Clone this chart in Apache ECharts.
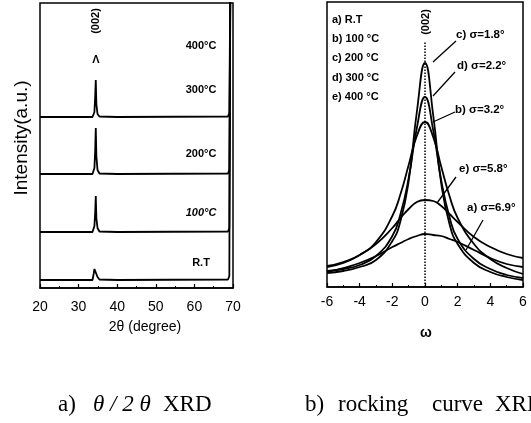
<!DOCTYPE html>
<html><head><meta charset="utf-8">
<script src="https://cdn.jsdelivr.net/npm/echarts@6/dist/echarts.min.js"></script>
<style>html,body{margin:0;padding:0;background:#fff}#c{width:531px;height:423px}</style>
</head><body><div id="c"></div>
<script>
// ---- Left panel: theta/2theta XRD (stacked traces, a.u.) ----
const twoTheta = [20, 33.6, 33.9, 34.1, 34.3, 34.45, 34.6, 34.9, 35.4, 40, 68.7, 69.05, 69.3, 70];
const xrdRT   = [8, 8, 14, 19, 20, 17, 14, 11, 8.5, 8, 8.5, 12, 300, 300];
const xrd100  = [56, 56, 57, 62, 76, 92, 70, 60, 56.5, 56, 56.5, 60, 300, 300];
const xrd200  = [114, 114, 115, 120, 138, 160, 132, 118, 114.5, 114, 114.5, 118, 300, 300];
const xrd300  = [171, 171, 172, 176, 192, 208, 184, 174, 171.5, 171, 171.5, 175, 300, 300];
const xrdTicks = [20, 30, 40, 50, 60, 70];
const sampleLabels = ['400°C', '300°C', '200°C', '100°C', 'R.T'];

// ---- Right panel: rocking curves (a.u.) ----
const omega = [-6, -5, -4, -3, -2, -1.5, -1, -0.5, 0, 0.5, 1, 1.5, 2, 3, 4, 5, 6];
const rcA = [15, 19, 24, 31, 40, 44, 48, 51, 53, 52, 51, 48, 45, 37, 29, 23, 20];   // R.T  6.9
const rcB = [21, 25, 32, 45, 71, 93, 122, 151, 165, 150, 120, 91, 69, 43, 28, 19, 13]; // 100  3.2
const rcC = [14, 16, 20, 27, 46, 66, 106, 175, 224, 172, 103, 63, 43, 24, 15, 10, 7]; // 200  1.8
const rcD = [16, 18, 22, 31, 51, 73, 109, 159, 190, 157, 106, 70, 48, 28, 18, 12, 9]; // 300  2.2
const rcE = [20, 24, 32, 43, 59, 69, 78, 85, 87, 86, 81, 73, 65, 50, 40, 33, 29];   // 400  5.8
const rcTicks = [-6, -4, -2, 0, 2, 4, 6];
const rcLegend = ['a) R.T', 'b) 100 °C', 'c) 200 °C', 'd) 300 °C', 'e) 400 °C'];
const rcNotes = ['c) σ=1.8°', 'd) σ=2.2°', 'b) σ=3.2°', 'e) σ=5.8°', 'a) σ=6.9°'];

const pair = (xs, ys) => xs.map((x, i) => [x, ys[i]]);
const F = '"Liberation Sans", Arial, sans-serif';
const SERIF = '"Liberation Serif", "DejaVu Serif", serif';
const lineS = (xi, yi, d, w, smooth) => ({
  type: 'line', xAxisIndex: xi, yAxisIndex: yi, data: d, showSymbol: false, smooth: smooth,
  lineStyle: { color: '#000', width: w }, silent: true, animation: false, clip: true
});

const chart = echarts.init(document.getElementById('c'), null, { renderer: 'canvas' });
const txt = (x, y, s, o = {}) => ({
  type: 'text', x, y, rotation: o.rot || 0,
  style: { text: s, font: (o.style || '') + ' ' + (o.weight || 'bold') + ' ' + (o.size || 11) + 'px ' + (o.family || F),
    fill: '#000', textAlign: o.align || 'left', textVerticalAlign: 'middle' }
});
const seg = (x1, y1, x2, y2) => ({ type: 'line', shape: { x1, y1, x2, y2 }, style: { stroke: '#000', lineWidth: 1.3 } });

const labelY = [46, 90, 154, 213, 263];
const cap = { weight: 'normal', size: 23, family: SERIF };
const graphics = [
  txt(22, 138, 'Intensity(a.u.)', { rot: Math.PI / 2, align: 'center', weight: 'normal', size: 19 }),
  txt(96, 21, '(002)', { rot: Math.PI / 2, align: 'center', weight: 'bold', size: 11 }),
  txt(96, 60, 'Λ', { align: 'center', weight: 'bold', size: 11 }),
  txt(145, 327, '2θ (degree)', { align: 'center', weight: 'normal', size: 14 }),
  txt(426, 333, 'ω', { align: 'center', weight: 'bold', size: 14 }),
  txt(426, 22, '(002)', { rot: Math.PI / 2, align: 'center', weight: 'bold', size: 11 }),
  txt(58, 405, 'a)', cap),
  txt(93, 405, 'θ / 2 θ', Object.assign({ style: 'italic' }, cap)),
  txt(163, 405, 'XRD', cap),
  txt(305, 405, 'b)', cap),
  txt(338, 405, 'rocking', cap),
  txt(432, 405, 'curve', cap),
  txt(495, 405, 'XRD', cap)
];
sampleLabels.forEach((s, i) => graphics.push(txt(201, labelY[i], s, { align: 'center', style: i === 3 ? 'italic' : '' })));
rcLegend.forEach((s, i) => graphics.push(txt(332, 20 + i * 19.2, s)));
const noteXY = [[456, 35], [457, 66], [455, 110], [459, 169], [467, 208]];
rcNotes.forEach((s, i) => graphics.push(txt(noteXY[i][0], noteXY[i][1], s, { size: 11.5 })));
graphics.push(seg(456, 41, 433, 62), seg(455, 72, 433, 96), seg(455, 112, 433, 122), seg(456, 177, 437, 203), seg(483, 220, 466, 250));

const axisCommon = {
  axisLine: { show: true, lineStyle: { color: '#000', width: 1.5 } },
  axisTick: { show: true, inside: true, length: 4, lineStyle: { color: '#000', width: 1.2 } },
  splitLine: { show: false }
};

chart.setOption({
  animation: false,
  grid: [
    { left: 40, right: 298, top: 3, bottom: 135, show: true, borderColor: '#000', borderWidth: 1.5 },
    { left: 327, right: 8, top: 2, bottom: 136, show: true, borderColor: '#000', borderWidth: 1.5 }
  ],
  xAxis: [
    Object.assign({ gridIndex: 0, type: 'value', min: 20, max: 70, interval: 10,
      axisLabel: { color: '#000', fontSize: 14, fontFamily: F, margin: 12,
        formatter: v => xrdTicks.includes(v) ? String(v) : '' },
      minorTick: { show: true, splitNumber: 2, length: 2, lineStyle: { color: '#000' } } }, axisCommon),
    Object.assign({ gridIndex: 1, type: 'value', min: -6, max: 6, interval: 2,
      axisLabel: { color: '#000', fontSize: 14, fontFamily: F, margin: 8,
        formatter: v => rcTicks.includes(v) ? String(v) : '' },
      minorTick: { show: true, splitNumber: 2, length: 2, lineStyle: { color: '#000' } } }, axisCommon)
  ],
  yAxis: [
    { gridIndex: 0, type: 'value', min: 0, max: 285, show: false },
    { gridIndex: 1, type: 'value', min: 0, max: 285, show: false }
  ],
  series: [
    lineS(0, 0, pair(twoTheta, xrdRT), 1.8, false),
    lineS(0, 0, pair(twoTheta, xrd100), 1.8, false),
    lineS(0, 0, pair(twoTheta, xrd200), 1.8, false),
    lineS(0, 0, pair(twoTheta, xrd300), 1.8, false),
    Object.assign(lineS(1, 1, pair(omega, rcA), 1.8, true), {
      markLine: { silent: true, symbol: 'none', label: { show: false },
        lineStyle: { color: '#000', type: 'dotted', width: 1.5 },
        data: [[{ coord: [0, 0] }, { coord: [0, 245] }]] } }),
    lineS(1, 1, pair(omega, rcB), 1.8, true),
    lineS(1, 1, pair(omega, rcC), 1.8, true),
    lineS(1, 1, pair(omega, rcD), 1.8, true),
    lineS(1, 1, pair(omega, rcE), 1.8, true)
  ],
  graphic: graphics
});
</script></body></html>
